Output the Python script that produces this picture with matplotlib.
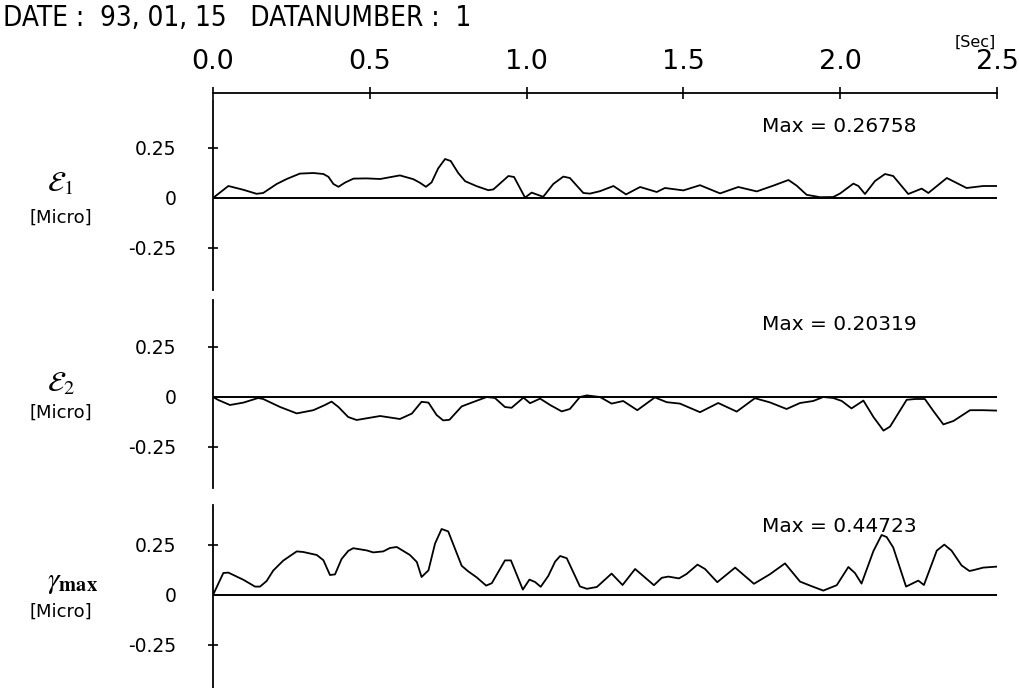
import numpy as np
import matplotlib.pyplot as plt

# time axis [sec] and the three strain traces
t_e1 = [0.0, 0.049, 0.097, 0.139, 0.16, 0.203, 0.235, 0.277, 0.32, 0.352, 0.368, 0.384, 0.4,
        0.421, 0.448, 0.49, 0.533, 0.596, 0.639, 0.66, 0.679, 0.697, 0.718, 0.74, 0.758,
        0.782, 0.804, 0.841, 0.878, 0.894, 0.942, 0.96, 0.995, 1.016, 1.053, 1.085, 1.117,
        1.138, 1.181, 1.202, 1.234, 1.277, 1.317, 1.362, 1.415, 1.441, 1.5, 1.553, 1.617,
        1.675, 1.734, 1.787, 1.835, 1.861, 1.893, 1.936, 1.978, 2.0, 2.042, 2.058, 2.079,
        2.111, 2.143, 2.169, 2.217, 2.26, 2.281, 2.34, 2.403, 2.456, 2.5]
e1 = [0.0, 0.06, 0.041, 0.021, 0.025, 0.07, 0.095, 0.122, 0.125, 0.12, 0.106, 0.07, 0.056,
      0.077, 0.097, 0.098, 0.095, 0.113, 0.094, 0.076, 0.056, 0.078, 0.148, 0.195, 0.185,
      0.125, 0.084, 0.059, 0.039, 0.043, 0.11, 0.105, 0.002, 0.027, 0.006, 0.07, 0.107,
      0.1, 0.025, 0.022, 0.034, 0.06, 0.018, 0.055, 0.03, 0.05, 0.038, 0.064, 0.023,
      0.055, 0.033, 0.062, 0.09, 0.062, 0.016, 0.004, 0.005, 0.023, 0.072, 0.06, 0.02,
      0.085, 0.12, 0.11, 0.02, 0.047, 0.025, 0.1, 0.05, 0.06, 0.06]

t_e2 = [0.0, 0.017, 0.054, 0.097, 0.144, 0.16, 0.214, 0.267, 0.32, 0.357, 0.378, 0.4, 0.431,
        0.458, 0.533, 0.596, 0.634, 0.665, 0.687, 0.713, 0.734, 0.754, 0.793, 0.83, 0.873,
        0.899, 0.931, 0.952, 0.99, 1.011, 1.043, 1.075, 1.112, 1.138, 1.17, 1.192, 1.234,
        1.271, 1.308, 1.353, 1.409, 1.447, 1.489, 1.553, 1.611, 1.67, 1.728, 1.776, 1.829,
        1.872, 1.914, 1.946, 1.978, 2.005, 2.036, 2.074, 2.106, 2.138, 2.159, 2.212, 2.239,
        2.27, 2.297, 2.329, 2.361, 2.414, 2.456, 2.5]
e2 = [0.0, -0.015, -0.04, -0.028, -0.005, -0.01, -0.05, -0.082, -0.066, -0.04, -0.023, -0.05,
      -0.1, -0.115, -0.095, -0.11, -0.083, -0.024, -0.028, -0.09, -0.117, -0.114, -0.047,
      -0.025, 0.0, -0.005, -0.05, -0.054, -0.003, -0.031, -0.008, -0.04, -0.072, -0.06,
      0.0, 0.008, 0.0, -0.033, -0.02, -0.066, -0.002, -0.026, -0.033, -0.076, -0.03, -0.073,
      -0.006, -0.027, -0.06, -0.03, -0.02, 0.0, -0.005, -0.02, -0.057, -0.018, -0.1, -0.168,
      -0.148, -0.014, -0.01, -0.01, -0.07, -0.137, -0.12, -0.066, -0.066, -0.068]

t_g = [0.0, 0.033, 0.049, 0.097, 0.134, 0.15, 0.171, 0.192, 0.224, 0.267, 0.288, 0.331, 0.352,
       0.373, 0.389, 0.41, 0.431, 0.447, 0.49, 0.511, 0.543, 0.564, 0.586, 0.628, 0.65, 0.665,
       0.687, 0.708, 0.729, 0.75, 0.772, 0.793, 0.814, 0.841, 0.871, 0.889, 0.931, 0.95,
       0.988, 1.009, 1.027, 1.045, 1.069, 1.091, 1.107, 1.128, 1.17, 1.192, 1.224, 1.271,
       1.306, 1.346, 1.372, 1.406, 1.431, 1.452, 1.486, 1.51, 1.545, 1.569, 1.608, 1.665,
       1.725, 1.776, 1.824, 1.872, 1.904, 1.946, 1.989, 2.026, 2.047, 2.068, 2.106, 2.132,
       2.148, 2.169, 2.21, 2.249, 2.267, 2.308, 2.332, 2.355, 2.387, 2.412, 2.424, 2.456, 2.5]
g = [0.0, 0.11, 0.112, 0.076, 0.042, 0.042, 0.07, 0.122, 0.172, 0.218, 0.215, 0.2, 0.174,
     0.1, 0.103, 0.18, 0.22, 0.234, 0.223, 0.213, 0.218, 0.235, 0.24, 0.2, 0.165, 0.09,
     0.123, 0.257, 0.33, 0.318, 0.23, 0.146, 0.118, 0.088, 0.047, 0.059, 0.173, 0.173,
     0.027, 0.077, 0.065, 0.041, 0.095, 0.167, 0.195, 0.184, 0.043, 0.031, 0.04, 0.107,
     0.05, 0.13, 0.095, 0.049, 0.086, 0.092, 0.083, 0.105, 0.152, 0.13, 0.064, 0.137,
     0.056, 0.104, 0.158, 0.067, 0.047, 0.022, 0.049, 0.14, 0.11, 0.057, 0.22, 0.3,
     0.29, 0.238, 0.042, 0.072, 0.05, 0.222, 0.252, 0.222, 0.148, 0.12, 0.124, 0.137, 0.142]

max_text = ["Max = 0.26758", "Max = 0.20319", "Max = 0.44723"]
x_ticks = [0.0, 0.5, 1.0, 1.5, 2.0, 2.5]
y_ticks = [0.25, 0, -0.25]
y_ticklabels = ["0.25", "0", "-0.25"]

W, H = 1020, 688
PX = 200.0  # pixel pro Einheit

fig = plt.figure(figsize=(W / 100, H / 100), dpi=100)
plt.rcParams['font.family'] = 'DejaVu Sans'


def panel(top, bottom, zero, sp_top, sp_bot, tt, yy, maxlbl, maxy):
    ax = fig.add_axes([213 / W, 1 - bottom / H, 784 / W, (bottom - top) / H])
    ax.set_facecolor('none')
    ax.set_xlim(0, 2.5)
    ax.set_ylim(-(bottom - zero) / PX, (zero - top) / PX)
    for s in ['right', 'bottom', 'top']:
        ax.spines[s].set_visible(False)
    ax.spines['left'].set_linewidth(1.3)
    ax.spines['left'].set_bounds(-(sp_bot - zero) / PX, (zero - sp_top) / PX)
    ax.set_xticks([])
    ax.set_yticks(y_ticks)
    ax.set_yticklabels(y_ticklabels, fontsize=13.5)
    ax.tick_params(axis='y', direction='inout', length=7, width=1.2, pad=23)
    ax.yaxis.get_major_ticks()[1].tick1line.set_visible(False)
    ax.axhline(0, color='black', lw=1.4)
    ax.plot(tt, yy, color='black', lw=1.3)
    ax.text((762 - 213) / 784 * 2.5, (zero - maxy) / PX, maxlbl,
            fontsize=14.5, va='center', ha='left')
    return ax


ax1 = panel(93, 292, 198, 100, 290, t_e1, e1, max_text[0], 127)
ax2 = panel(293, 490, 397, 300, 488, t_e2, e2, max_text[1], 324)
ax3 = panel(500, 688, 595, 505, 688, t_g, g, max_text[2], 526)

# Zeitachse oben
ax1.spines['top'].set_visible(True)
ax1.spines['top'].set_linewidth(1.3)
ax1.xaxis.set_ticks_position('top')
ax1.set_xticks(x_ticks)
ax1.set_xticklabels(["%.1f" % v for v in x_ticks], fontsize=19.5)
ax1.tick_params(axis='x', direction='inout', length=8, width=1.2, pad=9)

fig.text(3 / W, 1 - 18 / H, "DATE :  93, 01, 15   DATANUMBER :  1",
         fontsize=20, va='center', ha='left', fontstretch='condensed')
fig.text(975 / W, 1 - 42 / H, "[Sec]", fontsize=11.5, va='center', ha='center')

labels = [(r'$\mathcal{E}_{1}$', 183, 218), (r'$\mathcal{E}_{2}$', 383, 413),
          (r'$\gamma_{\mathbf{max}}$', 582, 612)]
for lab, y_sym, y_mic in labels:
    fig.text(47 / W, 1 - y_sym / H, lab, fontsize=21, va='center', ha='left',
             math_fontfamily='stix')
    fig.text(61 / W, 1 - y_mic / H, "[Micro]", fontsize=13, va='center', ha='center')

fig.savefig('out.png', dpi=100, facecolor='white')
